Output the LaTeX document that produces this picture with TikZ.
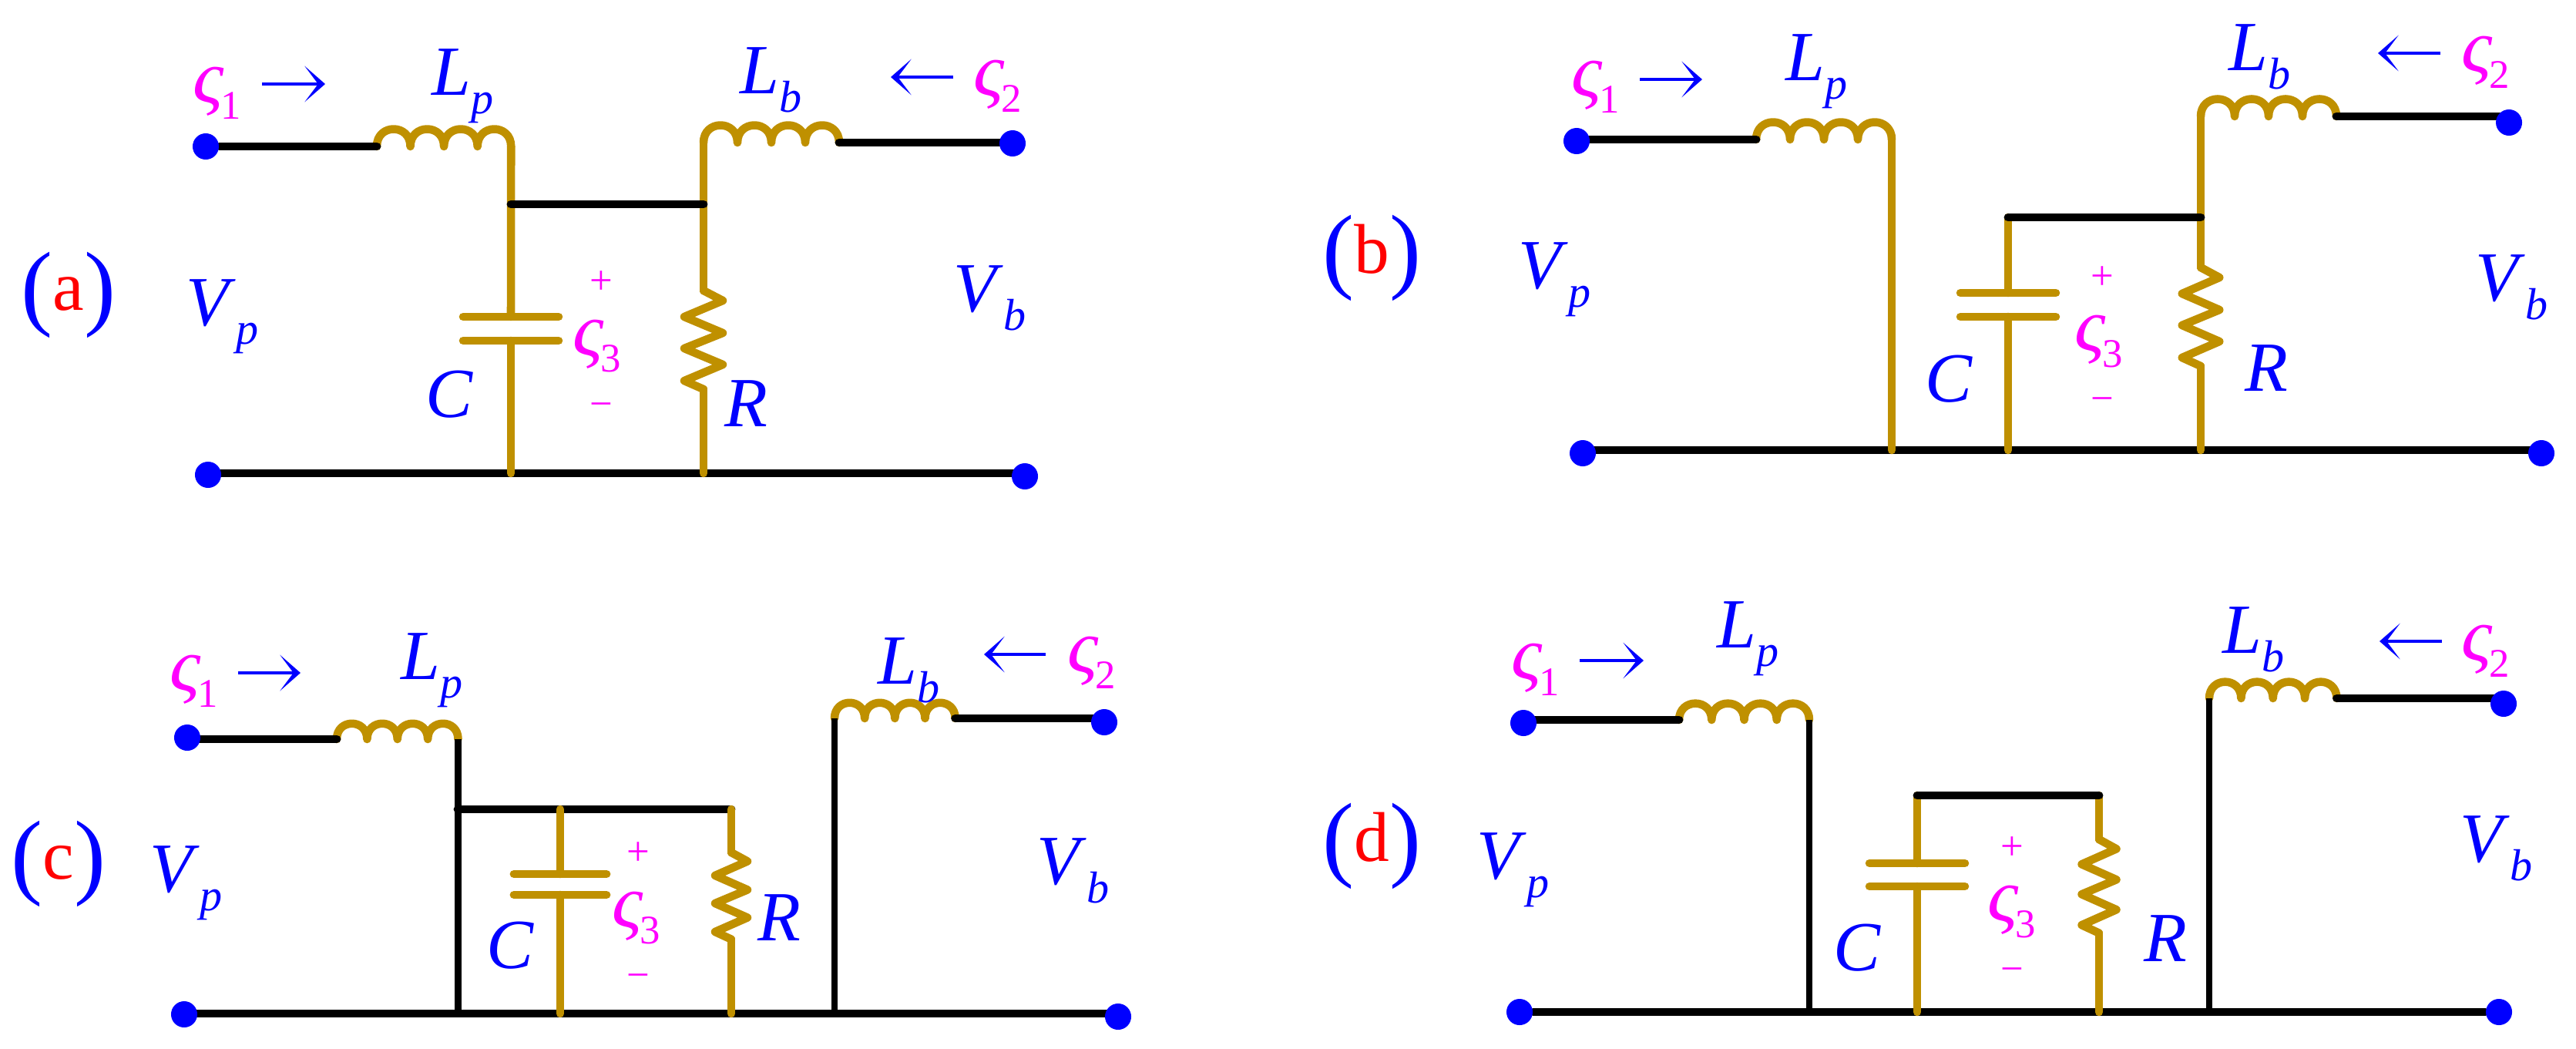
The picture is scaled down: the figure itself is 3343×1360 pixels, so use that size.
\documentclass[tikz,border=0pt]{standalone}
\usepackage{fontspec}
\setmainfont{Liberation Serif}
\usetikzlibrary{arrows.meta,positioning,calc,backgrounds}
\definecolor{coilgold}{RGB}{191,144,0}
\definecolor{labblue}{RGB}{0,0,255}
\definecolor{sgmag}{RGB}{255,0,255}
\definecolor{tagred}{RGB}{255,0,0}
\newcommand{\lbl}[2]{\textit{#1}\raisebox{-7pt}{\fontsize{16.5}{16.5}\selectfont\textit{#2}}}
\newcommand{\sgl}[1]{\textcolor{sgmag}{\fontsize{28}{28}\selectfont\raisebox{1.5pt}{\textit{ς}}\kern-1.4pt\raisebox{-4.5pt}{\fontsize{15}{15}\selectfont #1}}}
\newcommand{\tagl}[1]{\raisebox{-3pt}{\fontsize{35}{35}\selectfont(}\textcolor{tagred}{#1}\raisebox{-3pt}{\fontsize{35}{35}\selectfont)}}
\tikzset{
  % 1 unit is one pixel of the reference, y runs down
  wire/.style={line width=3.1pt, black, line cap=round},
  thinw/.style={line width=2.3pt, black},
  goldw/.style={line width=3pt, coilgold, line cap=round, line join=round},
  term/.style={circle, fill=labblue, minimum size=0.34cm, inner sep=0pt},
  lab/.style={anchor=base west, inner sep=0pt, text=labblue, font=\fontsize{26}{26}\selectfont},
  sgn/.style={inner sep=0pt, text=sgmag, yshift=-0.9pt, font=\fontsize{15}{15}\selectfont},
  sgnm/.style={sgn, yshift=-1.7pt},
  flow/.style={-{Stealth[length=7.6pt,width=13.3pt,inset=5pt]}, line width=1.4pt, labblue},
  coil/.pic={
    \draw[goldw] (0,0) foreach \k in {0,1,2,3} {
      .. controls (44*\k,-30) and (44*\k+44,-30) .. (44*\k+44,0)};
    \coordinate (-i) at (0,0);
    \coordinate (-o) at (176,0);
  },
  capac/.pic={
    \draw[goldw] (-62,-15.5) -- (62,-15.5);
    \draw[goldw] (-62,15.5) -- (62,15.5);
    \coordinate (-t) at (0,-15.5);
    \coordinate (-b) at (0,15.5);
  },
  resist/.pic={
    \draw[goldw] (0,0) -- (25,13) -- (-25,34) -- (25,55) -- (-25,75) -- (25,96) -- (-25,117) -- (0,128);
    \coordinate (-t) at (0,0);
    \coordinate (-b) at (0,128);
  },
}
\begin{document}
\begin{tikzpicture}[x=0.01cm,y=-0.01cm]
  \useasboundingbox (0,0) rectangle (3343,1360);

  % Panel a
  \node[term] (aT1) at (267,190) {};
  \node[term] (aT2) at (1314,186) {};
  \node[term] (aB1) at (270,616) {};
  \node[term] (aB2) at (1330,618) {};
  \begin{scope}[on background layer]
    \coordinate (aGnd) at (270,614);
    \coordinate (aBr) at (663,265);
    \draw[wire] (aGnd) -- (aGnd -| aB2);
    \pic[xscale=0.99] (aLp) at (489,190) {coil};
    \pic (aLb) at (913,185) {coil};
    \pic (aC) at (663,426.5) {capac};
    \pic (aR) at (913,377) {resist};
    \draw[goldw] (aLp-o) -- (aC-t);
    \draw[goldw] (aC-b) -- (aC-b |- aGnd);
    \draw[goldw] (aLb-i) -- (aR-t);
    \draw[goldw] (aR-b) -- (aR-b |- aGnd);
    \draw[wire] (aBr) -- (aBr -| aR-t);
    \draw[wire] (aT1) -- (aLp-i);
    \draw[wire] (aLb-o) -- (aLb-o -| aT2);
  \end{scope}
  \node[lab] (aTag) at (27,402) {\tagl{a}};
  \node[lab] (aVp) at (241,422) {\lbl{V}{p}};
  \node[lab] (aVb) at (1237,404) {\lbl{V}{b}};
  \node[lab] (aLpl) at (560,123) {\lbl{L}{p}};
  \node[lab] (aLbl) at (960,121) {\lbl{L}{b}};
  \node[lab] (aCl) at (552,541) {\textit{C}};
  \node[lab] (aRl) at (940,553) {\textit{R}};
  \node[lab] (aS1) at (250,139) {\sgl{1}};
  \node[lab] (aS2) at (1263,130) {\sgl{2}};
  \node[lab] (aS3) at (743,467) {\sgl{3}};
  \node[sgn] (aPl) at (780,363) {+};
  \node[sgnm] (aMi) at (780,523) {−};
  \draw[flow] (340,109) coordinate (aA1) -- (422,109) coordinate (aA2);
  \draw[flow] (1237,100) coordinate (aA3) -- (1156,100) coordinate (aA4);

  % Panel b
  \node[term] (bT1) at (2046,183) {};
  \node[term] (bT2) at (3256,159) {};
  \node[term] (bB1) at (2054,588) {};
  \node[term] (bB2) at (3298,588) {};
  \begin{scope}[on background layer]
    \coordinate (bGnd) at (2054,584);
    \coordinate (bBr) at (2606,282);
    \draw[wire] (bGnd) -- (bGnd -| bB2);
    \pic (bLp) at (2279,181) {coil};
    \pic (bLb) at (2856,151) {coil};
    \pic (bC) at (2606,395.5) {capac};
    \pic[xscale=0.97] (bR) at (2856,347) {resist};
    \draw[goldw] (bLp-o) -- (bLp-o |- bGnd);
    \draw[goldw] (bBr) -- (bC-t);
    \draw[goldw] (bC-b) -- (bC-b |- bGnd);
    \draw[goldw] (bLb-i) -- (bR-t);
    \draw[goldw] (bR-b) -- (bR-b |- bGnd);
    \draw[wire] (bBr) -- (bBr -| bR-t);
    \draw[wire] (bT1 |- bLp-i) -- (bLp-i);
    \draw[wire] (bLb-o) -- (bLb-o -| bT2);
  \end{scope}
  \node[lab] (bTag) at (1716,354) {\tagl{b}};
  \node[lab] (bVp) at (1970,374) {\lbl{V}{p}};
  \node[lab] (bVb) at (3212,390) {\lbl{V}{b}};
  \node[lab] (bLpl) at (2317,104) {\lbl{L}{p}};
  \node[lab] (bLbl) at (2892,91) {\lbl{L}{b}};
  \node[lab] (bCl) at (2498,521) {\textit{C}};
  \node[lab] (bRl) at (2913,507) {\textit{R}};
  \node[lab] (bS1) at (2039,131) {\sgl{1}};
  \node[lab] (bS2) at (3194,99) {\sgl{2}};
  \node[lab] (bS3) at (2692,461) {\sgl{3}};
  \node[sgn] (bPl) at (2728,357) {+};
  \node[sgnm] (bMi) at (2728,516) {−};
  \draw[flow] (2128,103) coordinate (bA1) -- (2209,103) coordinate (bA2);
  \draw[flow] (3167,69) coordinate (bA3) -- (3086,69) coordinate (bA4);

  % Panel c
  \node[term] (cT1) at (243,957) {};
  \node[term] (cT2) at (1433,937) {};
  \node[term] (cB1) at (239,1316) {};
  \node[term] (cB2) at (1451,1319) {};
  \begin{scope}[on background layer]
    \coordinate (cGnd) at (239,1315);
    \coordinate (cBr) at (594,1050);
    \draw[wire] (cGnd) -- (cGnd -| cB2);
    \pic[xscale=0.895,yscale=0.9] (cLp) at (437,959) {coil};
    \pic[xscale=0.89,yscale=0.9] (cLb) at (1083,932) {coil};
    \pic[xscale=0.97,yscale=0.87] (cC) at (727,1147.5) {capac};
    \pic[xscale=0.84,yscale=0.88] (cR) at (949,1106) {resist};
    \draw[thinw] (cLp-o) -- (cLp-o |- cGnd);
    \draw[thinw] (cLb-i) -- (cLb-i |- cGnd);
    \draw[wire] (cBr) -- (cBr -| cR-t);
    \draw[goldw] (cC-t |- cBr) -- (cC-t);
    \draw[goldw] (cC-b) -- (cC-b |- cGnd);
    \draw[goldw] (cR-t |- cBr) -- (cR-t);
    \draw[goldw] (cR-b) -- (cR-b |- cGnd);
    \draw[wire] (cT1 |- cLp-i) -- (cLp-i);
    \draw[wire] (cLb-o) -- (cLb-o -| cT2);
  \end{scope}
  \node[lab] (cTag) at (14,1140) {\tagl{c}};
  \node[lab] (cVp) at (194,1157) {\lbl{V}{p}};
  \node[lab] (cVb) at (1345,1147) {\lbl{V}{b}};
  \node[lab] (cLpl) at (520,881) {\lbl{L}{p}};
  \node[lab] (cLbl) at (1139,887) {\lbl{L}{b}};
  \node[lab] (cCl) at (631,1256) {\textit{C}};
  \node[lab] (cRl) at (983,1220) {\textit{R}};
  \node[lab] (cS1) at (220,902) {\sgl{1}};
  \node[lab] (cS2) at (1385,878) {\sgl{2}};
  \node[lab] (cS3) at (794,1209) {\sgl{3}};
  \node[sgn] (cPl) at (828,1104) {+};
  \node[sgnm] (cMi) at (828,1264) {−};
  \draw[flow] (309,873) coordinate (cA1) -- (390,873) coordinate (cA2);
  \draw[flow] (1357,849) coordinate (cA3) -- (1277,849) coordinate (cA4);

  % Panel d
  \node[term] (dT1) at (1977,938) {};
  \node[term] (dT2) at (3249,913) {};
  \node[term] (dB1) at (1972,1313) {};
  \node[term] (dB2) at (3243,1313) {};
  \begin{scope}[on background layer]
    \coordinate (dBr) at (2488,1032);
    \draw[wire] (dB1) -- (dB2);
    \pic[xscale=0.96,yscale=0.95] (dLp) at (2179,934) {coil};
    \pic[xscale=0.94,yscale=0.95] (dLb) at (2867,906) {coil};
    \pic[xscale=1,yscale=0.97] (dC) at (2488,1135) {capac};
    \pic[xscale=0.9,yscale=0.95] (dR) at (2724,1089) {resist};
    \draw[thinw] (dLp-o) -- (dLp-o |- dB1);
    \draw[thinw] (dLb-i) -- (dLb-i |- dB1);
    \draw[goldw] (dBr) -- (dC-t);
    \draw[goldw] (dC-b) -- (dC-b |- dB1);
    \draw[goldw] (dR-t |- dBr) -- (dR-t);
    \draw[goldw] (dR-b) -- (dR-b |- dB1);
    \draw[wire] (dBr) -- (dBr -| dR-t);
    \draw[wire] (dT1 |- dLp-i) -- (dLp-i);
    \draw[wire] (dLb-o) -- (dLb-o -| dT2);
  \end{scope}
  \node[lab] (dTag) at (1716,1117) {\tagl{d}};
  \node[lab] (dVp) at (1916,1140) {\lbl{V}{p}};
  \node[lab] (dVb) at (3192,1118) {\lbl{V}{b}};
  \node[lab] (dLpl) at (2228,840) {\lbl{L}{p}};
  \node[lab] (dLbl) at (2884,847) {\lbl{L}{b}};
  \node[lab] (dCl) at (2379,1259) {\textit{C}};
  \node[lab] (dRl) at (2782,1247) {\textit{R}};
  \node[lab] (dS1) at (1961,887) {\sgl{1}};
  \node[lab] (dS2) at (3194,863) {\sgl{2}};
  \node[lab] (dS3) at (2579,1201) {\sgl{3}};
  \node[sgn] (dPl) at (2611,1097) {+};
  \node[sgnm] (dMi) at (2611,1256) {−};
  \draw[flow] (2050,857) coordinate (dA1) -- (2133,857) coordinate (dA2);
  \draw[flow] (3169,832) coordinate (dA3) -- (3088,832) coordinate (dA4);
\end{tikzpicture}
\end{document}
